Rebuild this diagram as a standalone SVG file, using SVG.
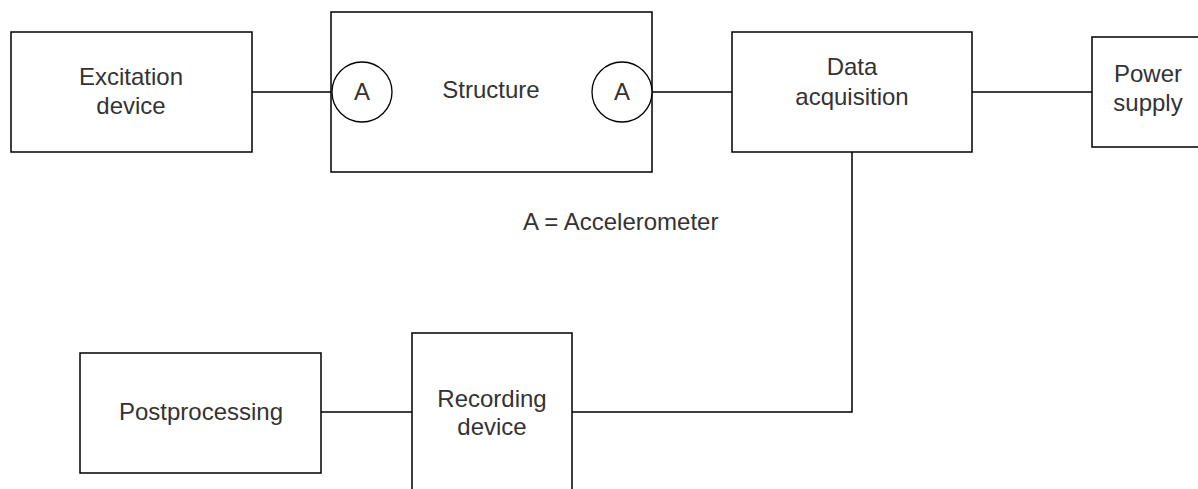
<svg xmlns="http://www.w3.org/2000/svg" width="1198" height="489" viewBox="0 0 1198 489">
<style>
.box{fill:#fff;stroke:#000;stroke-width:1.5}
.acc{fill:#fff;stroke:#000;stroke-width:1.3}
.wire{fill:none;stroke:#000;stroke-width:1.5}
.lbl{font-family:"Liberation Sans",Arial,sans-serif;font-size:24px;fill:#333;text-anchor:middle}
</style>
<rect width="1198" height="489" fill="#fff"/>
<g id="connectors">
<path class="wire" d="M252 92 H332" stroke="#555"/>
<path class="wire" d="M652 92 H732"/>
<path class="wire" d="M972 92 H1092"/>
<path class="wire" d="M852 152 V412 H572"/>
<path class="wire" d="M321 412 H412"/>
</g>
<g id="excitation">
<rect class="box" x="11" y="32" width="241" height="120"/>
<text class="lbl" x="131" y="85">Excitation</text>
<text class="lbl" x="131" y="114">device</text>
</g>
<g id="structure">
<rect class="box" x="331" y="12" width="321" height="160"/>
<text class="lbl" x="491" y="98">Structure</text>
</g>
<g id="accel-left">
<circle class="acc" cx="362" cy="92" r="30"/>
<text class="lbl" x="362" y="100">A</text>
</g>
<g id="accel-right">
<circle class="acc" cx="622" cy="92" r="30"/>
<text class="lbl" x="622" y="100">A</text>
</g>
<g id="data-acquisition">
<rect class="box" x="732" y="32" width="240" height="120"/>
<text class="lbl" x="852" y="75">Data</text>
<text class="lbl" x="852" y="105">acquisition</text>
</g>
<g id="power-supply">
<rect class="box" x="1092" y="37" width="112" height="110"/>
<text class="lbl" x="1148" y="82">Power</text>
<text class="lbl" x="1148" y="111">supply</text>
</g>
<g id="legend">
<text class="lbl" x="523" y="230" style="text-anchor:start">A = Accelerometer</text>
</g>
<g id="postprocessing">
<rect class="box" x="80" y="353" width="241" height="120"/>
<text class="lbl" x="201" y="420">Postprocessing</text>
</g>
<g id="recording-device">
<rect class="box" x="412" y="333" width="160" height="160"/>
<text class="lbl" x="492" y="407">Recording</text>
<text class="lbl" x="492" y="435">device</text>
</g>
</svg>
